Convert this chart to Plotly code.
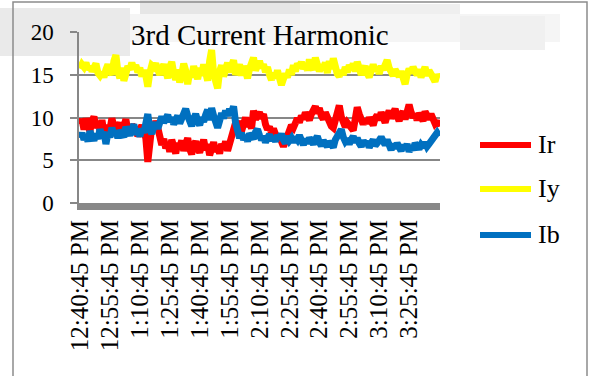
import plotly.graph_objects as go
import pandas as pd

# ---- data (one reading per minute) ----
ir = [9.2, 9.8, 8.6, 9.9, 9.0, 8.4, 9.6, 10.1, 8.8, 9.3,
      8.5, 9.7, 8.2, 8.0, 9.1, 8.6, 9.9, 8.3, 7.9, 8.8,
      9.4, 8.1, 8.7, 9.8, 8.4, 8.0, 9.2, 8.6, 8.9, 7.8,
      8.5, 9.1, 8.2, 7.6, 4.8, 8.0, 9.0, 8.4, 9.6, 8.8,
      7.2, 6.8, 7.5, 6.4, 7.1, 6.0, 7.4, 6.6, 5.8, 7.0,
      6.5, 7.3, 6.1, 6.9, 7.6, 6.3, 5.7, 6.8, 7.2, 6.4,
      5.9, 6.7, 7.4, 6.2, 6.9, 5.6, 6.6, 7.1, 6.0, 6.5,
      5.8, 6.9, 6.3, 7.2, 6.1, 6.8, 7.5, 8.6, 9.4, 8.8,
      9.6, 8.4, 9.1, 10.0, 8.9, 9.5, 8.7, 10.8, 9.8, 10.3,
      10.6, 9.9, 10.4, 9.2, 8.6, 8.9, 8.2, 8.7, 7.9, 7.4,
      7.8, 7.0, 6.6, 7.2, 8.0, 8.6, 9.1, 8.8, 9.5, 9.9,
      9.4, 10.2, 9.8, 10.6, 10.1, 9.7, 10.4, 10.9, 11.3, 10.5,
      11.1, 10.2, 9.8, 10.6, 10.0, 9.6, 9.0, 8.8, 9.7, 10.5,
      11.4, 10.1, 9.3, 8.9, 9.4, 9.0, 8.7, 8.5, 9.8, 11.2,
      10.4, 9.6, 9.2, 9.8, 9.3, 10.0, 9.5, 9.1, 9.9, 10.3,
      9.7, 10.6, 10.0, 9.4, 10.2, 10.8, 9.9, 10.4, 11.0, 10.2,
      9.6, 10.3, 10.7, 9.8, 10.9, 11.5, 10.6, 10.0, 10.4, 9.7,
      10.5, 10.1, 9.6, 10.7, 10.2, 9.8, 10.4, 9.9, 9.3, 9.6,
      8.9]

iy = [15.7, 16.2, 15.9, 16.4, 15.6, 16.0, 15.4, 15.8, 16.3, 15.2,
      14.9, 15.3, 14.7, 15.6, 16.2, 15.5, 15.0, 16.6, 17.3, 15.4,
      14.6, 15.8, 14.3, 15.1, 16.0, 15.6, 16.4, 15.7, 16.1, 15.3,
      15.8, 14.8, 15.5, 14.9, 13.6, 15.2, 16.1, 15.9, 16.3, 15.6,
      15.0, 15.7, 16.2, 15.4, 14.6, 15.9, 16.5, 15.2, 14.4, 15.6,
      14.1, 15.0, 16.3, 15.5, 13.9, 15.3, 14.7, 16.0, 15.2, 14.5,
      15.8, 14.9, 16.2, 15.0, 14.3, 16.6, 17.9, 15.1, 14.0, 13.4,
      15.4, 16.1, 14.8, 15.6, 16.4, 15.3, 15.9, 16.7, 15.0, 15.8,
      16.2, 14.9, 16.0, 15.4, 14.6, 15.7, 16.3, 17.0, 15.5, 16.1,
      16.6, 15.8, 16.2, 15.3, 15.9, 15.0, 14.4, 15.2, 14.6, 15.5,
      14.2, 13.8, 14.5, 15.1, 14.7, 15.6, 15.0, 16.1, 15.4, 16.3,
      15.9, 16.5, 15.7, 16.2, 15.5, 16.8, 16.0, 15.6, 17.0, 16.2,
      15.4, 16.1, 15.8, 16.4, 15.2, 16.6, 15.7, 16.9, 15.9, 15.1,
      14.8, 15.5, 15.0, 15.9, 15.3, 16.1, 15.6, 16.3, 15.4, 16.5,
      15.8, 15.0, 15.6, 16.0, 15.2, 14.7, 15.5, 16.2, 15.4, 15.9,
      15.1, 16.0, 15.6, 16.4, 16.7, 15.8, 15.3, 14.9, 15.6, 15.2,
      14.8, 15.4, 14.5, 13.9, 15.0, 15.7, 15.2, 15.9, 15.4, 15.0,
      15.6, 14.7, 15.3, 15.9, 14.9, 15.5, 15.1, 14.6, 14.2, 15.0,
      14.6]

ib = [7.6, 8.2, 7.4, 8.0, 7.2, 8.4, 7.8, 7.3, 8.1, 7.5,
      8.6, 7.9, 8.3, 6.9, 8.2, 7.7, 8.8, 8.0, 8.4, 7.6,
      8.5, 8.1, 7.7, 8.9, 8.3, 7.9, 8.6, 9.2, 8.0, 8.4,
      7.8, 8.7, 8.2, 9.0, 10.4, 8.6, 8.1, 8.9, 9.4, 8.7,
      9.6, 10.1, 9.4, 9.8, 10.3, 9.5, 10.0, 9.2, 9.7, 10.2,
      9.3, 9.9, 10.6, 11.0, 10.2, 9.4, 9.0, 9.8, 10.4, 9.6,
      9.1, 10.0, 9.5, 10.3, 10.9, 9.7, 11.1, 10.2, 9.4, 8.8,
      9.6, 10.5, 9.9, 10.8, 10.2, 11.0, 10.6, 11.3, 9.4, 8.0,
      7.6, 8.2, 7.4, 7.9, 7.2, 8.1, 7.7, 7.5, 8.3, 8.6,
      7.9, 7.4, 7.8, 7.1, 7.6, 8.0, 7.3, 7.7, 7.2, 7.9,
      7.5, 8.1, 7.4, 7.0, 7.8, 7.3, 7.6, 7.1, 7.7, 7.4,
      7.9, 7.2, 6.8, 7.5, 7.0, 7.6, 7.3, 6.9, 7.4, 7.8,
      7.1, 6.7, 7.3, 7.0, 6.6, 7.2, 6.8, 6.5, 7.4, 7.9,
      8.2, 8.6, 7.7, 7.2, 7.5, 6.9, 7.4, 7.8, 7.1, 7.6,
      7.0, 6.6, 7.3, 6.8, 7.2, 6.5, 7.0, 7.4, 6.7, 6.9,
      7.3, 7.7, 7.1, 6.8, 7.4, 6.6, 6.2, 6.9, 6.4, 7.0,
      6.5, 6.1, 6.8, 6.3, 6.9, 6.0, 6.6, 6.2, 7.0, 6.7,
      6.3, 6.8, 6.5, 7.1, 6.6, 6.9, 7.2, 7.6, 7.9, 8.2,
      7.8]

tick_labels = ["12:40:45 PM", "12:55:45 PM", "1:10:45 PM", "1:25:45 PM",
               "1:40:45 PM", "1:55:45 PM", "2:10:45 PM", "2:25:45 PM",
               "2:40:45 PM", "2:55:45 PM", "3:10:45 PM", "3:25:45 PM"]
y_ticks = [0, 5, 10, 15, 20]
series_names = ["Ir", "Iy", "Ib"]
series_colors = ["#FF0000", "#FFFF00", "#0070C0"]

start = pd.Timestamp("2000-01-01 12:40:45")
times = []
for i in range(len(ir)):
    t = start + pd.Timedelta(minutes=i)
    times.append(f"{int(t.strftime('%I'))}:{t.strftime('%M:%S %p')}")

FONT = "Liberation Serif"
GRID = "#878787"

fig = go.Figure()
for name, vals, col in zip(series_names, [ir, iy, ib], series_colors):
    fig.add_trace(go.Scatter(x=times, y=vals, mode="lines", name=name,
                             line=dict(color=col, width=7), showlegend=False,
                             hoverinfo="skip"))

# plot-area pixel geometry
L, R, T, B = 79, 440, 32, 203
W, H = R - L, B - T
def px(x):
    return (x - L) / W
def py(y):
    return (B - y) / H

shapes = []
annotations = []
# soft grey haze at the top of the picture
for (x0, y0, x1, y1, c) in [(0, 8, 130, 56, "#eaeaea"),
                            (140, 0, 300, 14, "#e6e6e6"),
                            (300, 4, 460, 16, "#efefef"),
                            (130, 14, 560, 42, "#f5f5f5"),
                            (460, 16, 545, 50, "#f0f0f0")]:
    shapes.append(dict(type="rect", xref="paper", yref="paper",
                       x0=px(x0), x1=px(x1), y0=py(y1), y1=py(y0),
                       fillcolor=c, line=dict(width=0), layer="below"))
# outer frame of the chart
shapes.append(dict(type="rect", xref="paper", yref="paper",
                   x0=px(13), x1=px(587), y0=py(390), y1=py(2),
                   line=dict(color="#8c8c8c", width=1.5), layer="below"))
# legend
leg_y = [145, 189, 235]
for name, col, yy in zip(series_names, series_colors, leg_y):
    shapes.append(dict(type="line", xref="paper", yref="paper",
                       x0=px(480), x1=px(531), y0=py(yy), y1=py(yy),
                       line=dict(color=col, width=6)))
    annotations.append(dict(xref="paper", yref="paper", x=px(536), y=py(yy - 1),
                            text=name, showarrow=False, xanchor="left",
                            yanchor="middle",
                            font=dict(family=FONT, size=26, color="black")))
# title
annotations.append(dict(xref="paper", yref="paper", x=0.5, y=py(35),
                        text="3rd Current Harmonic", showarrow=False,
                        xanchor="center", yanchor="middle",
                        font=dict(family=FONT, size=29, color="black")))

fig.update_layout(
    width=589, height=376,
    margin=dict(l=L, r=589 - R, t=T, b=376 - B, pad=0),
    paper_bgcolor="white", plot_bgcolor="rgba(0,0,0,0)",
    shapes=shapes, annotations=annotations,
    showlegend=False, hovermode=False,
    font=dict(family=FONT, color="black"),
)
fig.update_xaxes(type="category", range=[-0.5, len(times) - 0.5],
                 tickmode="array", tickvals=tick_labels, ticktext=tick_labels,
                 tickangle=-90, tickfont=dict(family=FONT, size=25),
                 showline=True, linecolor="#888888", linewidth=7,
                 showgrid=False, ticks="", zeroline=False)
fig.update_yaxes(range=[0, 20], tickmode="array", tickvals=y_ticks,
                 tickfont=dict(family=FONT, size=23),
                 showgrid=True, gridcolor=GRID, gridwidth=1.5,
                 showline=True, linecolor=GRID, linewidth=1.5,
                 ticks="outside", ticklen=7, tickcolor=GRID, tickwidth=1.5,
                 ticklabelstandoff=12, zeroline=False)

fig.write_html("out.html", config={"displayModeBar": False},
               post_script="document.body.style.margin='0';document.body.style.overflow='hidden';")
